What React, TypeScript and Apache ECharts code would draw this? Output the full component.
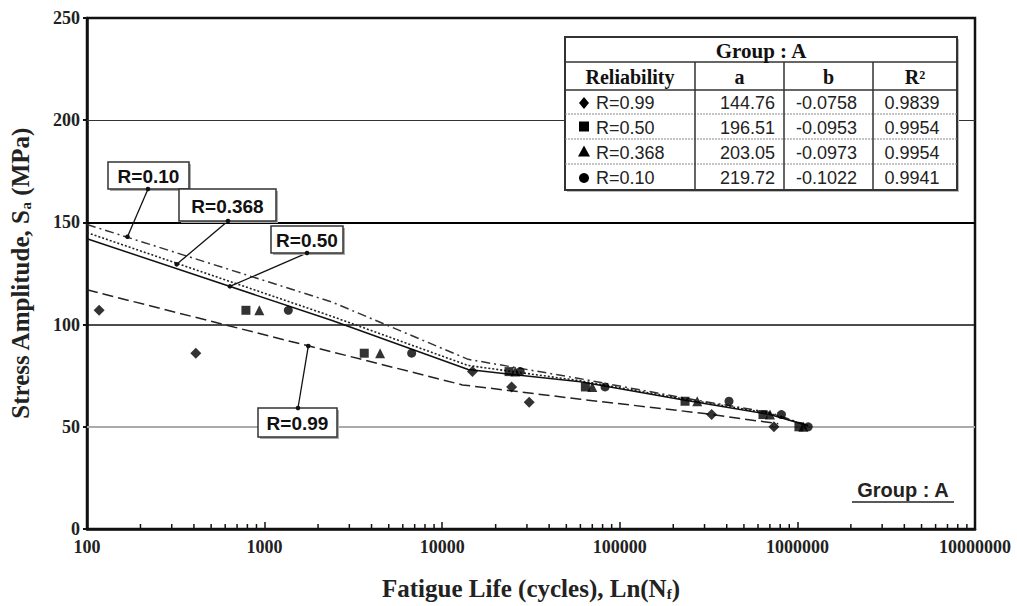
import React, { useEffect, useRef } from 'react';
import * as echarts from 'echarts';

// ---------- data ----------
const xTickLabels = ['100', '1000', '10000', '100000', '1000000', '10000000'];
const yTickValues = [0, 50, 100, 150, 200, 250];

// test points [cycles, stress MPa]
const pointsR099 = [[117, 107], [410, 86], [14800, 77], [24600, 69.5], [30900, 62], [329000, 56], [738000, 50]];
const pointsR050 = [[785, 107], [3640, 86], [23800, 77], [64000, 69.5], [233000, 62.5], [640000, 56], [1020000, 50]];
const pointsR0368 = [[934, 107], [4470, 86], [25800, 77], [70000, 69.5], [273000, 62.5], [701000, 56], [1080000, 50]];
const pointsR010 = [[1360, 107], [6730, 86], [27500, 77], [82600, 69.5], [412000, 62.5], [813000, 56], [1150000, 50]];

// fitted curves
const curveR099 = [[100, 117], [13000, 70.5], [60000, 63.5], [300000, 56.5], [780000, 51.5]];
const curveR050 = [[100, 142], [2400, 102], [14000, 78], [60000, 72], [233000, 63], [700000, 56], [1150000, 50.5]];
const curveR0368 = [[100, 145], [2400, 104], [14000, 80], [60000, 72.5], [233000, 63.5], [700000, 56.5], [1150000, 50.5]];
const curveR010 = [[100, 149], [2400, 111], [14000, 83], [60000, 73.5], [233000, 64], [700000, 57], [1150000, 50.5]];

// table
const tableTitle = 'Group : A';
const tableHeaders = ['Reliability', 'a', 'b', 'R²'];
const tableNames = ['R=0.99', 'R=0.50', 'R=0.368', 'R=0.10'];
const tableA = ['144.76', '196.51', '203.05', '219.72'];
const tableB = ['-0.0758', '-0.0953', '-0.0973', '-0.1022'];
const tableR2 = ['0.9839', '0.9954', '0.9954', '0.9941'];
const tableSymbols = ['diamond', 'square', 'triangle', 'circle'];

// callouts: label text and the point on its curve
const calloutLabels = ['R=0.10', 'R=0.368', 'R=0.50', 'R=0.99'];
const calloutAnchors = [[169, 143], [320, 129.5], [638, 118.7], [1762, 89.5]];

// ---------- layout (pixels) ----------
const GRID = { left: 87, right: 42, top: 18, bottom: 76 };
const calloutBoxes = [
  { x: 108, y: 162, w: 81, h: 27, side: 'bottom', ax: 148 },
  { x: 179, y: 189, w: 97, h: 32, side: 'bottom', ax: 228 },
  { x: 271, y: 226, w: 72, h: 27, side: 'bottom', ax: 307 },
  { x: 258, y: 408, w: 79, h: 29, side: 'top', ax: 298 },
];
const TABLE = { colX: [565, 695, 784, 873, 957], rowY: [37, 62, 90, 114, 139, 164, 190] };

const SERIF = '"Liberation Serif", "DejaVu Serif", serif';
const SANS = '"Liberation Sans", Arial, sans-serif';
const NARROW = '"Liberation Sans Narrow", "Liberation Sans", sans-serif';

function tableGraphics(): any[] {
  const g: any[] = [];
  const [x0, x1, x2, x3, x4] = TABLE.colX;
  const ry = TABLE.rowY;
  const z = 100;
  g.push({ type: 'rect', z, shape: { x: x0 + 2, y: ry[0] + 2, width: x4 - x0, height: ry[6] - ry[0] }, style: { fill: '#bbb' } });
  g.push({ type: 'rect', z: z + 1, shape: { x: x0, y: ry[0], width: x4 - x0, height: ry[6] - ry[0] }, style: { fill: '#fff', stroke: '#333', lineWidth: 2 } });
  for (let i = 1; i < 6; i++) {
    const dotted = i >= 3;
    g.push({ type: 'line', z: z + 2, shape: { x1: x0, y1: ry[i], x2: x4, y2: ry[i] }, style: { stroke: dotted ? '#888' : '#333', lineWidth: dotted ? 1 : 1.5, lineDash: dotted ? [2, 1] : null } });
  }
  [x1, x2, x3].forEach((cx) => {
    g.push({ type: 'line', z: z + 2, shape: { x1: cx, y1: ry[1], x2: cx, y2: ry[6] }, style: { stroke: '#333', lineWidth: 1.5 } });
  });
  g.push({ type: 'text', z: z + 3, style: { text: tableTitle, x: (x0 + x4) / 2, y: (ry[0] + ry[1]) / 2 + 1, align: 'center', verticalAlign: 'middle', font: `bold 21px ${SERIF}`, fill: '#111' } });
  const colCenters = [(x0 + x1) / 2, (x1 + x2) / 2, (x2 + x3) / 2, (x3 + x4) / 2];
  tableHeaders.forEach((h, i) => {
    g.push({ type: 'text', z: z + 3, style: { text: h, x: colCenters[i], y: (ry[1] + ry[2]) / 2 + 1, align: 'center', verticalAlign: 'middle', font: `bold 20px ${SERIF}`, fill: '#111' } });
  });
  for (let r = 0; r < 4; r++) {
    const cy = (ry[r + 2] + ry[r + 3]) / 2 + 1;
    const mx = x0 + 19;
    const sym = tableSymbols[r];
    if (sym === 'diamond') g.push({ type: 'polygon', z: z + 3, shape: { points: [[mx, cy - 6], [mx + 5, cy], [mx, cy + 6], [mx - 5, cy]] }, style: { fill: '#000' } });
    if (sym === 'square') g.push({ type: 'rect', z: z + 3, shape: { x: mx - 5, y: cy - 6, width: 10, height: 10 }, style: { fill: '#000' } });
    if (sym === 'triangle') g.push({ type: 'polygon', z: z + 3, shape: { points: [[mx, cy - 7], [mx + 6, cy + 4], [mx - 6, cy + 4]] }, style: { fill: '#000' } });
    if (sym === 'circle') g.push({ type: 'circle', z: z + 3, shape: { cx: mx, cy, r: 5 }, style: { fill: '#000' } });
    const font = `18px ${NARROW}`;
    g.push({ type: 'text', z: z + 3, style: { text: tableNames[r], x: x0 + 31, y: cy, align: 'left', verticalAlign: 'middle', font, fill: '#222' } });
    g.push({ type: 'text', z: z + 3, style: { text: tableA[r], x: x2 - 9, y: cy, align: 'right', verticalAlign: 'middle', font, fill: '#222' } });
    g.push({ type: 'text', z: z + 3, style: { text: tableB[r], x: colCenters[2] - 2, y: cy, align: 'center', verticalAlign: 'middle', font, fill: '#222' } });
    g.push({ type: 'text', z: z + 3, style: { text: tableR2[r], x: colCenters[3] - 3, y: cy, align: 'center', verticalAlign: 'middle', font, fill: '#222' } });
  }
  return g;
}

export default function App() {
  const ref = useRef<HTMLDivElement>(null);
  useEffect(() => {
    if (!ref.current) return;
    const chart = echarts.init(ref.current, null, { renderer: 'svg' });
    const curveSeries = (name: string, data: number[][], type: any, color: string, width: number) => ({
      name, type: 'line', data, showSymbol: false, symbol: 'none', silent: true, z: 3,
      lineStyle: { color, width, type },
    });
    const scatter = (name: string, data: number[][], symbol: string, size: number) => ({
      name, type: 'scatter', data, symbol, symbolSize: size, z: 5,
      itemStyle: { color: '#000' },
    });
    const option: any = {
      animation: false,
      backgroundColor: '#fff',
      grid: { ...GRID, show: true, borderColor: '#111', borderWidth: 2.5, backgroundColor: 'transparent' },
      xAxis: {
        type: 'log', logBase: 10, min: 100, max: 10000000,
        name: 'Fatigue Life (cycles), Ln(N{sub|f})',
        nameLocation: 'middle', nameGap: 47,
        nameTextStyle: { fontFamily: SERIF, fontWeight: 'bold', fontSize: 25, color: '#222', rich: { sub: { fontFamily: SERIF, fontWeight: 'bold', fontSize: 15, verticalAlign: 'bottom', padding: [10, 0, 0, 0] } } },
        axisLine: { show: true, lineStyle: { color: '#111', width: 2.5 } },
        axisTick: { show: true, inside: true, length: 7, lineStyle: { color: '#111', width: 1.5 } },
        axisLabel: {
          margin: 9, fontFamily: SERIF, fontWeight: 'bold', fontSize: 18, color: '#222',
          formatter: (v: number) => {
            const idx = Math.round(Math.log10(v)) - 2;
            return xTickLabels[idx] ?? '';
          },
        },
        splitLine: { show: false },
      },
      yAxis: {
        type: 'value', min: 0, max: 250, interval: 50,
        name: 'Stress Amplitude, S{sub|a} (MPa)',
        nameLocation: 'middle', nameGap: 54, nameRotate: 90,
        nameTextStyle: { fontFamily: SERIF, fontWeight: 'bold', fontSize: 25, color: '#222', rich: { sub: { fontFamily: SERIF, fontWeight: 'bold', fontSize: 15, verticalAlign: 'bottom', padding: [8, 0, 0, 0] } } },
        axisLine: { show: true, lineStyle: { color: '#111', width: 2.5 } },
        axisTick: { show: true, inside: false, length: 4, lineStyle: { color: '#111', width: 2 } },
        axisLabel: {
          margin: 7, fontFamily: SERIF, fontWeight: 'bold', fontSize: 18, color: '#222',
          formatter: (v: number) => (yTickValues.includes(v) ? String(v) : ''),
        },
        splitLine: { show: false },
      },
      series: [
        {
          ...curveSeries('R=0.10 fit', curveR010, [9, 4, 2, 4], '#333', 1.5),
          markLine: {
            silent: true, symbol: 'none', label: { show: false }, z: 1,
            data: [
              { yAxis: 200, lineStyle: { color: '#333', width: 1, type: 'solid' } },
              { yAxis: 150, lineStyle: { color: '#000', width: 2, type: 'solid' } },
              { yAxis: 100, lineStyle: { color: '#111', width: 1.6, type: 'solid' } },
              { yAxis: 50, lineStyle: { color: '#aaa', width: 2, type: 'solid' } },
            ],
          },
        },
        curveSeries('R=0.368 fit', curveR0368, [2, 2], '#222', 1.6),
        curveSeries('R=0.50 fit', curveR050, 'solid', '#111', 1.5),
        curveSeries('R=0.99 fit', curveR099, [11, 5], '#222', 1.5),
        scatter('R=0.99', pointsR099, 'diamond', 11),
        scatter('R=0.50', pointsR050, 'rect', 9),
        scatter('R=0.368', pointsR0368, 'triangle', 10),
        scatter('R=0.10', pointsR010, 'circle', 9),
      ],
    };
    chart.setOption(option);

    const g: any[] = [];
    for (let d = 2; d < 7; d++) {
      for (let m = 2; m <= 9; m++) {
        const p = chart.convertToPixel({ gridIndex: 0 }, [m * Math.pow(10, d), 0]) as number[];
        g.push({ type: 'line', z: 50, shape: { x1: p[0], y1: p[1], x2: p[0], y2: p[1] - 5 }, style: { stroke: '#111', lineWidth: 1.5 } });
      }
    }
    calloutLabels.forEach((lab, i) => {
      const b = calloutBoxes[i];
      const p = chart.convertToPixel({ gridIndex: 0 }, calloutAnchors[i]) as number[];
      const ay = b.side === 'bottom' ? b.y + b.h : b.y;
      g.push({ type: 'line', z: 60, shape: { x1: b.ax, y1: ay, x2: p[0], y2: p[1] }, style: { stroke: '#111', lineWidth: 1.3 } });
      g.push({ type: 'circle', z: 62, shape: { cx: p[0], cy: p[1], r: 2.3 }, style: { fill: '#111' } });
      g.push({ type: 'rect', z: 60, shape: { x: b.x + 2, y: b.y + 2, width: b.w, height: b.h }, style: { fill: '#aaa' } });
      g.push({ type: 'rect', z: 61, shape: { x: b.x, y: b.y, width: b.w, height: b.h }, style: { fill: '#fff', stroke: '#333', lineWidth: 1.5 } });
      g.push({ type: 'circle', z: 62, shape: { cx: b.ax, cy: ay, r: 2.3 }, style: { fill: '#111' } });
      g.push({ type: 'text', z: 63, style: { text: lab, x: b.x + b.w / 2, y: b.y + b.h / 2 + 1, align: 'center', verticalAlign: 'middle', font: `bold 19px ${SANS}`, fill: '#111' } });
    });
    g.push({ type: 'text', z: 60, style: { text: 'Group : A', x: 903, y: 490, align: 'center', verticalAlign: 'middle', font: `bold 20px ${SANS}`, fill: '#222' } });
    g.push({ type: 'line', z: 60, shape: { x1: 852, y1: 502, x2: 954, y2: 502 }, style: { stroke: '#222', lineWidth: 1.5 } });
    g.push(...tableGraphics());
    chart.setOption({ graphic: { elements: g } });

    return () => chart.dispose();
  }, []);
  return <div ref={ref} style={{ position: 'fixed', left: 0, top: 0, width: 1017, height: 606, background: '#fff' }} />;
}
